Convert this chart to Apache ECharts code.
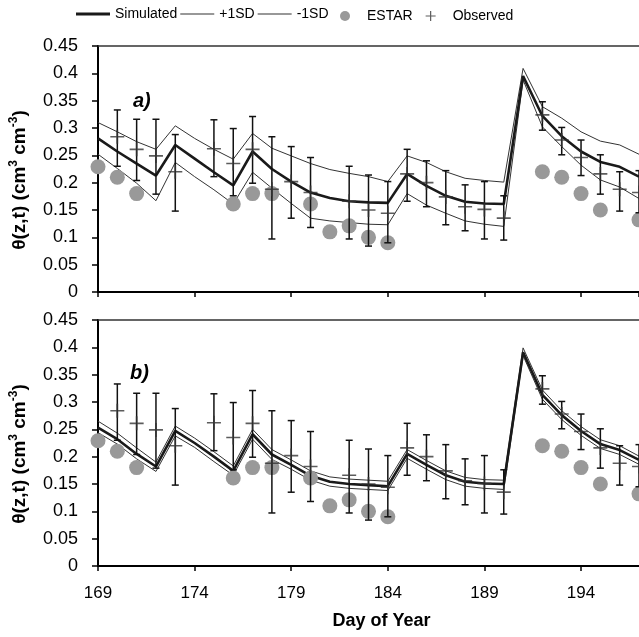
<!DOCTYPE html>
<html>
<head>
<meta charset="utf-8">
<script src="https://cdn.jsdelivr.net/npm/echarts@6/dist/echarts.min.js"></script>
<style>
  html, body { margin: 0; padding: 0; background: #fff; }
  #chart { width: 639px; height: 637px; }
</style>
</head>
<body>
<div id="chart"></div>
<script>
// day of year for the simulated series
var days = [169, 170, 171, 172, 173, 174, 175, 176, 177, 178, 179, 180, 181, 182, 183,
            184, 185, 186, 187, 188, 189, 190, 191, 192, 193, 194, 195, 196, 197];

// panel a)
var simA   = [0.281, 0.257, 0.235, 0.213, 0.269, 0.244, 0.219, 0.195, 0.257, 0.225, 0.202, 0.182, 0.172, 0.166, 0.164,
              0.163, 0.216, 0.194, 0.176, 0.165, 0.162, 0.161, 0.395, 0.322, 0.285, 0.257, 0.238, 0.229, 0.211];
var plusA  = [0.310, 0.293, 0.275, 0.261, 0.304, 0.281, 0.261, 0.243, 0.290, 0.263, 0.249, 0.235, 0.224, 0.217, 0.211,
              0.202, 0.249, 0.237, 0.220, 0.208, 0.204, 0.201, 0.409, 0.339, 0.318, 0.293, 0.276, 0.269, 0.252];
var minusA = [0.252, 0.226, 0.199, 0.167, 0.237, 0.211, 0.187, 0.161, 0.219, 0.190, 0.162, 0.135, 0.130, 0.127, 0.124,
              0.123, 0.180, 0.159, 0.144, 0.130, 0.124, 0.120, 0.388, 0.302, 0.266, 0.232, 0.205, 0.192, 0.171];

// panel b)
var simB   = [0.253, 0.232, 0.205, 0.182, 0.247, 0.225, 0.200, 0.174, 0.241, 0.204, 0.185, 0.165, 0.154, 0.150, 0.148,
              0.146, 0.205, 0.185, 0.166, 0.154, 0.151, 0.150, 0.391, 0.313, 0.276, 0.247, 0.223, 0.212, 0.194];
var plusB  = [0.265, 0.243, 0.216, 0.190, 0.256, 0.234, 0.209, 0.183, 0.250, 0.213, 0.194, 0.174, 0.163, 0.159, 0.157,
              0.155, 0.213, 0.193, 0.174, 0.162, 0.158, 0.157, 0.399, 0.322, 0.284, 0.255, 0.231, 0.220, 0.201];
var minusB = [0.244, 0.223, 0.196, 0.173, 0.238, 0.217, 0.191, 0.166, 0.232, 0.195, 0.177, 0.157, 0.146, 0.142, 0.140,
              0.138, 0.197, 0.177, 0.158, 0.146, 0.142, 0.140, 0.385, 0.305, 0.268, 0.239, 0.215, 0.204, 0.186];

// ESTAR retrievals (same in both panels)
var estarDays = [169, 170, 171, 176, 177, 178, 180, 181, 182, 183, 184, 192, 193, 194, 195, 197];
var estarVals = [0.229, 0.210, 0.180, 0.161, 0.180, 0.180, 0.161, 0.110, 0.121, 0.100, 0.090, 0.220, 0.210, 0.180, 0.150, 0.132];

// observed mean and range
var obsDays = [170, 171, 172, 173, 175, 176, 177, 178, 179, 180, 182, 183, 184, 185, 186, 187, 188, 189, 190,
               192, 193, 194, 195, 196, 197];
var obsVals = [0.284, 0.261, 0.249, 0.220, 0.262, 0.235, 0.261, 0.188, 0.202, 0.182, 0.166, 0.150, 0.144, 0.216, 0.200,
               0.174, 0.156, 0.151, 0.135, 0.324, 0.278, 0.246, 0.216, 0.188, 0.182];
var obsLow  = [0.230, 0.204, 0.179, 0.148, 0.211, 0.176, 0.199, 0.097, 0.135, 0.118, 0.097, 0.084, 0.090, 0.166, 0.156,
               0.123, 0.112, 0.097, 0.095, 0.296, 0.251, 0.213, 0.179, 0.148, 0.145];
var obsHigh = [0.333, 0.316, 0.316, 0.288, 0.315, 0.299, 0.321, 0.284, 0.266, 0.246, 0.230, 0.214, 0.202, 0.261, 0.240,
               0.222, 0.196, 0.202, 0.176, 0.348, 0.301, 0.278, 0.251, 0.220, 0.222];

var FONT = 'Liberation Sans, Arial, sans-serif';
var plusIcon = 'path://M0,4.4h10v1.2h-10z M4.4,0h1.2v10h-1.2z';
var thickIcon = 'path://M0,0h34v2.8h-34z';
var thinIcon = 'path://M0,0h34v1.1h-34z';

function pairs(xs, ys) {
    return xs.map(function (x, i) { return [x, ys[i]]; });
}

function renderErr(params, api) {
    var x = api.value(0);
    var top = api.coord([x, api.value(2)]);
    var bot = api.coord([x, api.value(1)]);
    var w = 3.5;
    var st = { stroke: '#111', lineWidth: 1.5 };
    return {
        type: 'group',
        children: [
            { type: 'line', shape: { x1: top[0], y1: top[1], x2: bot[0], y2: bot[1] }, style: st },
            { type: 'line', shape: { x1: top[0] - w, y1: top[1], x2: top[0] + w, y2: top[1] }, style: st },
            { type: 'line', shape: { x1: bot[0] - w, y1: bot[1], x2: bot[0] + w, y2: bot[1] }, style: st }
        ]
    };
}

function panelSeries(idx, sim, plus, minus) {
    return [
        {
            name: '+1SD', type: 'line', xAxisIndex: idx, yAxisIndex: idx,
            data: pairs(days, plus), symbol: 'none', silent: true,
            lineStyle: { color: '#333', width: 1 }, itemStyle: { color: '#333' }
        },
        {
            name: '-1SD', type: 'line', xAxisIndex: idx, yAxisIndex: idx,
            data: pairs(days, minus), symbol: 'none', silent: true,
            lineStyle: { color: '#333', width: 1 }, itemStyle: { color: '#333' }
        },
        {
            name: 'Simulated', type: 'line', xAxisIndex: idx, yAxisIndex: idx,
            data: pairs(days, sim), symbol: 'none', silent: true,
            lineStyle: { color: '#1a1a1a', width: 2.6 }, itemStyle: { color: '#1a1a1a' }
        },
        {
            name: 'ESTAR', type: 'scatter', xAxisIndex: idx, yAxisIndex: idx,
            data: pairs(estarDays, estarVals), symbol: 'circle', symbolSize: 15, silent: true,
            itemStyle: { color: '#999', opacity: 1 }, z: 3
        },
        {
            type: 'custom', xAxisIndex: idx, yAxisIndex: idx,
            data: obsDays.map(function (d, i) { return [d, obsLow[i], obsHigh[i]]; }),
            encode: { x: 0, y: [1, 2] }, renderItem: renderErr, silent: true, z: 4
        },
        {
            name: 'Observed', type: 'scatter', xAxisIndex: idx, yAxisIndex: idx,
            data: pairs(obsDays, obsVals), symbol: plusIcon, symbolSize: 14, silent: true,
            itemStyle: { color: '#333' }, z: 5
        }
    ];
}

function xAxisCfg(gridIndex, showLabels) {
    var cfg = {
        type: 'value', gridIndex: gridIndex, min: 169, max: 197, interval: 5,
        axisLine: { show: true, lineStyle: { color: '#000', width: 2 } },
        axisTick: { show: true, inside: false, length: 5, lineStyle: { color: '#000', width: 1.5 } },
        axisLabel: {
            show: showLabels, showMaxLabel: false, margin: 19,
            color: '#000', fontSize: 17, fontFamily: FONT
        },
        splitLine: { show: false }
    };
    if (showLabels) {
        cfg.name = 'Day of Year';
        cfg.nameLocation = 'middle';
        cfg.nameGap = 46;
        cfg.nameTextStyle = { color: '#000', fontSize: 18, fontWeight: 'bold', fontFamily: FONT, padding: [0, 0, 0, 26] };
    }
    return cfg;
}

function topAxisCfg(gridIndex) {
    return {
        type: 'value', gridIndex: gridIndex, position: 'top', min: 169, max: 197,
        axisLine: { show: true, onZero: false, lineStyle: { color: '#333', width: 1.5 } },
        axisTick: { show: false }, axisLabel: { show: false }, splitLine: { show: false }
    };
}

function yAxisCfg(gridIndex) {
    return {
        type: 'value', gridIndex: gridIndex, min: 0, max: 0.45, interval: 0.05,
        axisLine: { show: true, lineStyle: { color: '#000', width: 2 } },
        axisTick: { show: true, inside: false, length: 6, lineStyle: { color: '#000', width: 1.5 } },
        axisLabel: { margin: 20, color: '#000', fontSize: 18, fontFamily: FONT },
        splitLine: { show: false },
        name: '{m|θ(z,t) (cm}{s|3}{m| cm}{s|-3}{m|)}',
        nameLocation: 'middle', nameRotate: 90, nameGap: 66,
        nameTextStyle: {
            padding: [0, 22, 0, 0],
            rich: {
                m: { fontSize: 19, fontWeight: 'bold', fontFamily: FONT, color: '#000', lineHeight: 24 },
                s: { fontSize: 12, fontWeight: 'bold', fontFamily: FONT, color: '#000', verticalAlign: 'top', lineHeight: 12 }
            }
        }
    };
}

var chart = echarts.init(document.getElementById('chart'));

var option = {
    backgroundColor: '#fff',
    animation: false,
    legend: [
        {
            data: [
                { name: 'Simulated', icon: thickIcon },
                { name: '+1SD', icon: thinIcon },
                { name: '-1SD', icon: thinIcon }
            ],
            left: 71, top: 2, itemWidth: 34, itemHeight: 14, itemGap: 3,
            textStyle: { color: '#000', fontSize: 14, fontFamily: FONT },
            selectedMode: false
        },
        {
            data: [{ name: 'ESTAR', icon: 'circle' }, { name: 'Observed', icon: plusIcon }],
            left: 335, top: 4, itemWidth: 10, itemHeight: 10, itemGap: 13,
            textStyle: { color: '#000', fontSize: 14, fontFamily: FONT, padding: [0, 0, 0, 12] },
            selectedMode: false
        }
    ],
    grid: [
        { left: 95, right: 0, top: 46, height: 246 },
        { left: 95, right: 0, top: 320, height: 246 }
    ],
    xAxis: [xAxisCfg(0, false), xAxisCfg(1, true), topAxisCfg(0), topAxisCfg(1)],
    yAxis: [yAxisCfg(0), yAxisCfg(1)],
    graphic: [
        { type: 'text', left: 133, top: 91, style: { text: 'a)', fontSize: 20, fontWeight: 'bold', fontStyle: 'italic', fontFamily: FONT, fill: '#000' } },
        { type: 'text', left: 130, top: 363, style: { text: 'b)', fontSize: 20, fontWeight: 'bold', fontStyle: 'italic', fontFamily: FONT, fill: '#000' } }
    ],
    series: panelSeries(0, simA, plusA, minusA).concat(panelSeries(1, simB, plusB, minusB))
};

chart.setOption(option);
</script>
</body>
</html>
